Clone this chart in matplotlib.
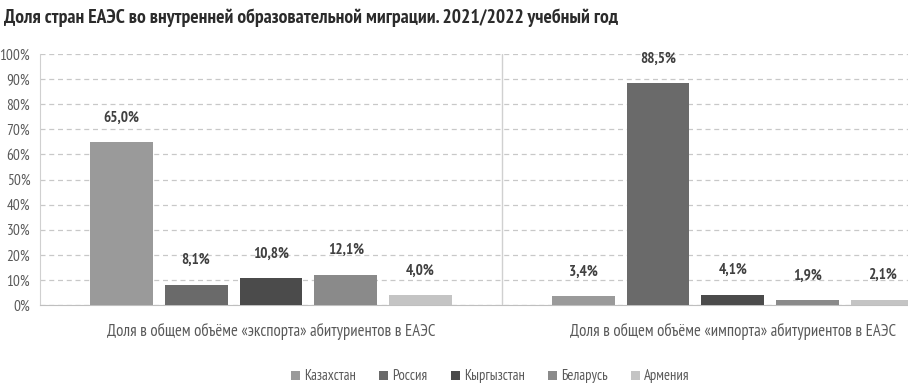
import matplotlib.pyplot as plt
import numpy as np

# data
categories = ['Доля в общем объёме «экспорта» абитуриентов в ЕАЭС',
              'Доля в общем объёме «импорта» абитуриентов в ЕАЭС']
countries = ['Казахстан', 'Россия', 'Кыргызстан', 'Беларусь', 'Армения']
kazakhstan = [65.0, 3.4]
russia = [8.1, 88.5]
kyrgyzstan = [10.8, 4.1]
belarus = [12.1, 1.9]
armenia = [4.0, 2.1]
series = [kazakhstan, russia, kyrgyzstan, belarus, armenia]
cols = ['#9a9a9a', '#6a6a6a', '#4b4b4b', '#8a8a8a', '#c4c4c4']

plt.rcParams['font.family'] = ['PT Sans Narrow', 'Fira Sans Extra Condensed',
                               'IBM Plex Sans Condensed', 'DejaVu Sans']

fig = plt.figure(figsize=(9.08, 3.86), dpi=100)
ax = fig.add_axes([0.044, 0.2098, 0.956, 0.650])

x = np.arange(len(categories))
w = 0.136
step = 0.162
for i, (vals, c) in enumerate(zip(series, cols)):
    pos = x + (i - 2) * step
    ax.bar(pos, vals, width=w, color=c, label=countries[i], zorder=3)
    for p, v in zip(pos, vals):
        ax.text(p, v + 7, ('%.1f%%' % v).replace('.', ','), ha='center', va='bottom',
                fontsize=11, fontweight='bold', color='#404040', zorder=4)

ax.set_ylim(0, 100)
ax.set_xlim(-0.5, 1.379)
ax.set_yticks(range(0, 101, 10))
ax.set_yticklabels(['%d%%' % t for t in range(0, 101, 10)], fontsize=11, color='#595959')
ax.set_xticks(x)
ax.set_xticklabels(categories, fontsize=12, color='#595959')
ax.tick_params(length=0, axis='both')
ax.tick_params(axis='x', pad=13)
ax.tick_params(axis='y', pad=7)
ax.yaxis.grid(True, linestyle=(0, (4, 3)), color='#c8c8c8', linewidth=0.9, zorder=0)
ax.axvline(0.5, color='#d0d0d0', linewidth=1, zorder=1)
for s in ['top', 'right']:
    ax.spines[s].set_visible(False)
ax.spines['left'].set_color('#d0d0d0')
ax.spines['bottom'].set_color('#bfbfbf')

fig.text(0.004, 0.955, 'Доля стран ЕАЭС во внутренней образовательной миграции. 2021/2022 учебный год',
         fontsize=14, fontweight='bold', color='#2b2b2b', ha='left', va='center')

fig.legend(loc='center', bbox_to_anchor=(0.54, 0.025), ncol=5, frameon=False,
           fontsize=10.5, handlelength=0.6, handleheight=0.6, handletextpad=0.3,
           columnspacing=1.6, labelcolor='#595959')

plt.savefig('out.png', dpi=100)
